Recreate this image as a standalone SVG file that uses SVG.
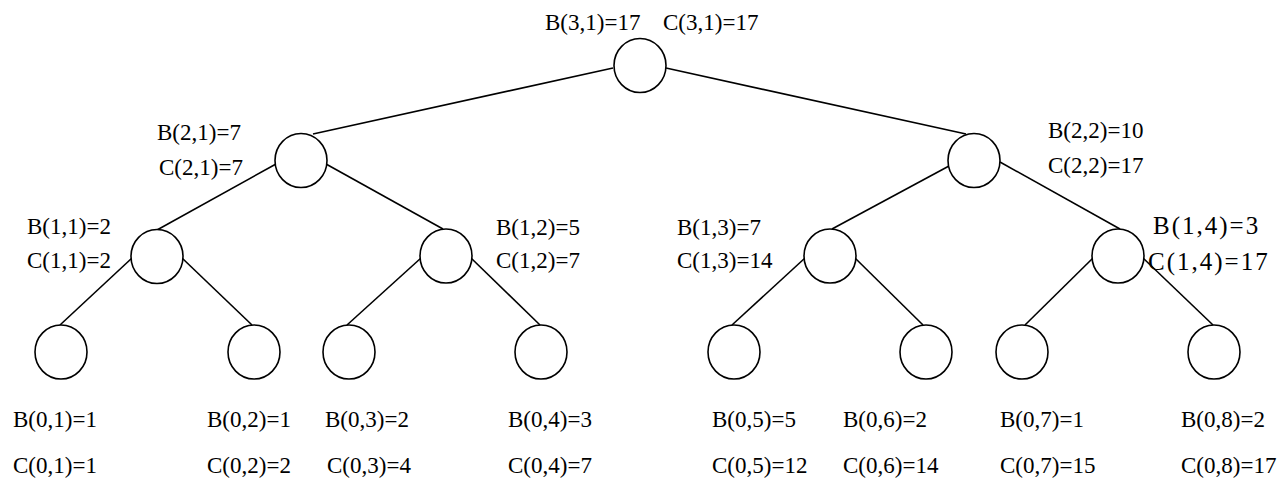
<svg xmlns="http://www.w3.org/2000/svg" width="1278" height="480" viewBox="0 0 1278 480">
<style>
.n{fill:#fff;stroke:#000;stroke-width:1.6}
.e{stroke:#000;stroke-width:1.6;fill:none}
.t{font-family:"Liberation Serif","Times New Roman",serif;font-size:23px;fill:#000}
.tw{font-family:"Liberation Serif","Times New Roman",serif;font-size:25px;letter-spacing:2px;fill:#000}
</style>
<rect width="1278" height="480" fill="#fff"/>
<g id="connectors">
<line class="e" x1="613" y1="68" x2="313" y2="134"/>
<line class="e" x1="666" y1="68" x2="966" y2="134"/>
<line class="e" x1="276" y1="164" x2="157" y2="230"/>
<line class="e" x1="326" y1="164" x2="443" y2="229"/>
<line class="e" x1="949" y1="166" x2="832" y2="229"/>
<line class="e" x1="1000" y1="162" x2="1120" y2="229"/>
<line class="e" x1="132" y1="258" x2="60" y2="325"/>
<line class="e" x1="182" y1="258" x2="252" y2="325"/>
<line class="e" x1="421" y1="258" x2="347" y2="325"/>
<line class="e" x1="471" y1="258" x2="540" y2="325"/>
<line class="e" x1="805" y1="258" x2="732" y2="325"/>
<line class="e" x1="855" y1="258" x2="923" y2="325"/>
<line class="e" x1="1093" y1="258" x2="1025" y2="325"/>
<line class="e" x1="1143" y1="258" x2="1213" y2="325"/>
</g>
<g id="n31"><ellipse class="n" cx="640" cy="65.5" rx="26" ry="27"/><text class="t" x="545" y="30">B(3,1)=17</text><text class="t" x="663" y="30">C(3,1)=17</text></g>
<g id="n21"><ellipse class="n" cx="301" cy="160.5" rx="26" ry="27"/><text class="t" x="157" y="140">B(2,1)=7</text><text class="t" x="159" y="175">C(2,1)=7</text></g>
<g id="n22"><ellipse class="n" cx="974" cy="160.5" rx="26" ry="27"/><text class="t" x="1048" y="138">B(2,2)=10</text><text class="t" x="1048" y="173">C(2,2)=17</text></g>
<g id="n11"><ellipse class="n" cx="157" cy="256.5" rx="26" ry="27"/><text class="t" x="27" y="234">B(1,1)=2</text><text class="t" x="27" y="268">C(1,1)=2</text></g>
<g id="n12"><ellipse class="n" cx="446" cy="256" rx="26" ry="27"/><text class="t" x="496" y="235">B(1,2)=5</text><text class="t" x="496" y="268">C(1,2)=7</text></g>
<g id="n13"><ellipse class="n" cx="830" cy="256" rx="26" ry="27"/><text class="t" x="677" y="235">B(1,3)=7</text><text class="t" x="677" y="268">C(1,3)=14</text></g>
<g id="n14"><ellipse class="n" cx="1118" cy="256" rx="26" ry="27"/><text class="tw" x="1153" y="234">B(1,4)=3</text><text class="tw" x="1148" y="270">C(1,4)=17</text></g>
<g id="n01"><ellipse class="n" cx="61" cy="352" rx="26" ry="27"/><text class="t" x="13" y="427">B(0,1)=1</text><text class="t" x="13" y="473">C(0,1)=1</text></g>
<g id="n02"><ellipse class="n" cx="254" cy="352" rx="26" ry="27"/><text class="t" x="207" y="427">B(0,2)=1</text><text class="t" x="207" y="473">C(0,2)=2</text></g>
<g id="n03"><ellipse class="n" cx="349" cy="352" rx="26" ry="27"/><text class="t" x="325" y="427">B(0,3)=2</text><text class="t" x="327" y="473">C(0,3)=4</text></g>
<g id="n04"><ellipse class="n" cx="541" cy="352" rx="26" ry="27"/><text class="t" x="508" y="427">B(0,4)=3</text><text class="t" x="508" y="473">C(0,4)=7</text></g>
<g id="n05"><ellipse class="n" cx="734" cy="352" rx="26" ry="27"/><text class="t" x="712" y="427">B(0,5)=5</text><text class="t" x="712" y="473">C(0,5)=12</text></g>
<g id="n06"><ellipse class="n" cx="926" cy="352" rx="26" ry="27"/><text class="t" x="843" y="427">B(0,6)=2</text><text class="t" x="843" y="473">C(0,6)=14</text></g>
<g id="n07"><ellipse class="n" cx="1022" cy="352" rx="26" ry="27"/><text class="t" x="1000" y="427">B(0,7)=1</text><text class="t" x="1000" y="473">C(0,7)=15</text></g>
<g id="n08"><ellipse class="n" cx="1214" cy="352" rx="26" ry="27"/><text class="t" x="1181" y="427">B(0,8)=2</text><text class="t" x="1181" y="473">C(0,8)=17</text></g>
</svg>
